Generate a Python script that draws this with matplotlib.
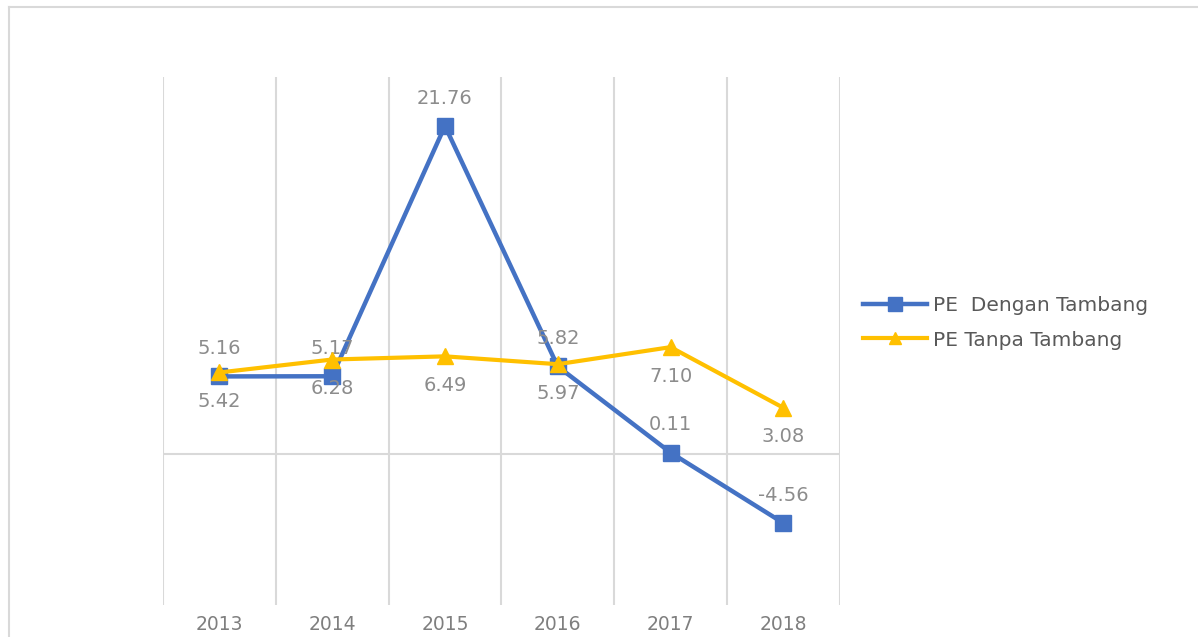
import matplotlib
matplotlib.use("Agg")
import matplotlib.pyplot as plt
from matplotlib.lines import Line2D

years = ["2013", "2014", "2015", "2016", "2017", "2018"]
pe_dengan = [5.16, 5.17, 21.76, 5.82, 0.11, -4.56]
pe_tanpa = [5.42, 6.28, 6.49, 5.97, 7.10, 3.08]

blue = "#4472C4"
gold = "#FFC000"
grid_col = "#D9D9D9"
label_col = "#8C8C8C"

fig = plt.figure(figsize=(11.98, 6.37), dpi=100)
ax = fig.add_axes([0.136, 0.050, 0.565, 0.829])

x = list(range(len(years)))

ax.plot(x, pe_dengan, color=blue, lw=3.2, marker="s", ms=12,
        label="PE  Dengan Tambang", zorder=3)
ax.plot(x, pe_tanpa, color=gold, lw=3.0, marker="^", ms=11,
        label="PE Tanpa Tambang", zorder=4)

# value labels: blue series above, gold series below
for xi, v in zip(x, pe_dengan):
    ax.annotate(f"{v:.2f}", (xi, v), xytext=(0, 20), textcoords="offset points",
                ha="center", va="center", fontsize=14, color=label_col)
for xi, v in zip(x, pe_tanpa):
    ax.annotate(f"{v:.2f}", (xi, v), xytext=(0, -21), textcoords="offset points",
                ha="center", va="center", fontsize=14, color=label_col)

ax.set_xlim(-0.5, len(years) - 0.5)
ax.set_ylim(-10, 25)

# vertical gridlines between categories, horizontal axis line at zero
for b in range(len(years) + 1):
    ax.axvline(b - 0.5, color=grid_col, lw=1.5, zorder=1)
ax.axhline(0, color=grid_col, lw=1.5, zorder=1)

for s in ax.spines.values():
    s.set_visible(False)
ax.set_yticks([])
ax.set_xticks(x)
ax.set_xticklabels(years, fontsize=13.5, color="#7F7F7F")
ax.tick_params(axis="x", length=0, pad=7)

leg = fig.legend(loc="center left", bbox_to_anchor=(0.705, 0.493), frameon=False,
                 fontsize=14.5, handlelength=3.2, handletextpad=0.3, labelspacing=0.75,
                 markerscale=0.8)
for t in leg.get_texts():
    t.set_color("#595959")

# chart border (top and left edges)
fig.add_artist(Line2D([9 / 1198, 9 / 1198], [0, 1 - 7 / 637], color=grid_col,
                      lw=1.5, transform=fig.transFigure))
fig.add_artist(Line2D([9 / 1198, 1], [1 - 7 / 637, 1 - 7 / 637], color=grid_col,
                      lw=1.5, transform=fig.transFigure))

fig.savefig("out.png", dpi=100)
